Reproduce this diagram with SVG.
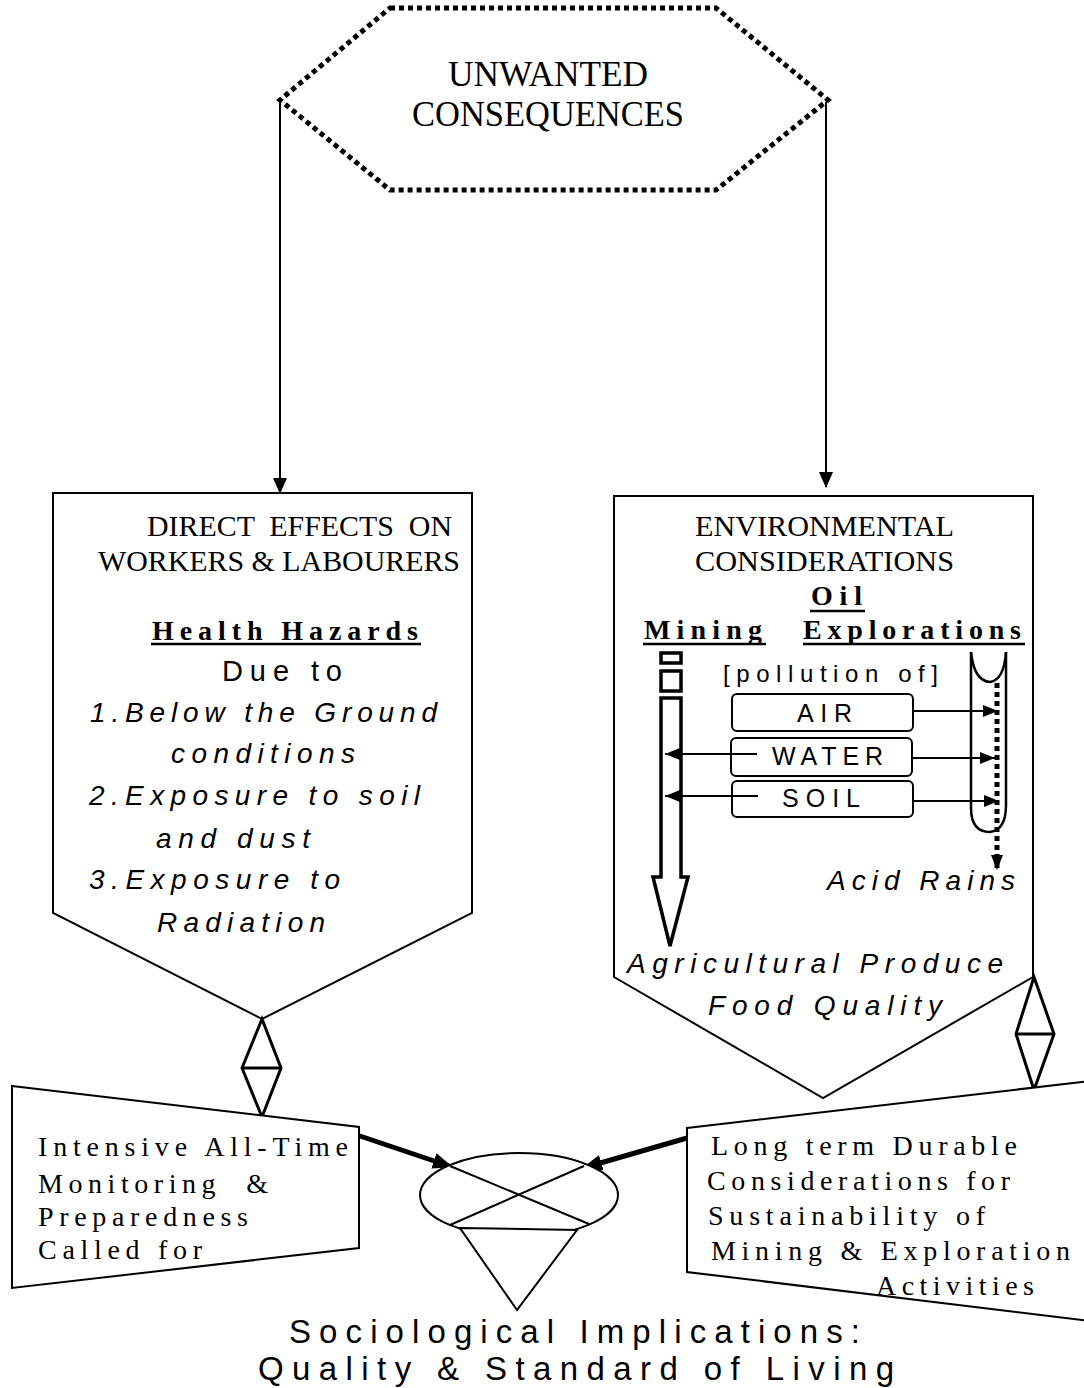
<svg xmlns="http://www.w3.org/2000/svg" width="1084" height="1388" viewBox="0 0 1084 1388">
<style>
.shape{fill:#fff;stroke:#000;stroke-width:2}
.thin{fill:none;stroke:#000;stroke-width:2}
.serif{font-family:"Liberation Serif","Times New Roman",serif;fill:#000}
.sans{font-family:"Liberation Sans",Arial,sans-serif;fill:#000}
.it{font-style:italic}
.b{font-weight:bold}
</style>
<defs>
<marker id="ah" markerUnits="userSpaceOnUse" markerWidth="16" markerHeight="14" refX="15" refY="7" orient="auto"><path d="M0,0 L16,7 L0,14 z" fill="#000"/></marker>
<marker id="ahs" markerUnits="userSpaceOnUse" markerWidth="15" markerHeight="12" refX="15" refY="6" orient="auto"><path d="M0,0 L15,6 L0,12 z" fill="#000"/></marker>
<marker id="ahb" markerUnits="userSpaceOnUse" markerWidth="20" markerHeight="16" refX="19" refY="8" orient="auto"><path d="M0,0 L20,8 L0,16 z" fill="#000"/></marker>
</defs>
<rect width="1084" height="1388" fill="#fff"/>

<g id="connectors">
<line class="thin" x1="280" y1="100" x2="280" y2="493" marker-end="url(#ah)"/>
<line class="thin" x1="826" y1="100" x2="826" y2="487" marker-end="url(#ah)"/>
<line x1="357" y1="1135" x2="452" y2="1167" stroke="#000" stroke-width="5" marker-end="url(#ahb)"/>
<line x1="687" y1="1138" x2="583" y2="1168" stroke="#000" stroke-width="5" marker-end="url(#ahb)"/>
</g>

<g id="unwanted">
<polygon points="390,8 716,8 828,100 716,190 390,190 280,100" fill="#fff" stroke="#000" stroke-width="5" stroke-dasharray="5 4"/>
<text class="serif" x="548" y="86" font-size="35" text-anchor="middle" textLength="200" lengthAdjust="spacingAndGlyphs">UNWANTED</text>
<text class="serif" x="548" y="126" font-size="35" text-anchor="middle" textLength="272" lengthAdjust="spacingAndGlyphs">CONSEQUENCES</text>
</g>

<g id="direct-effects">
<polygon class="shape" points="53,493 472,493 472,913 262,1019 53,913"/>
<text class="serif" x="147" y="536" font-size="30" textLength="305" lengthAdjust="spacingAndGlyphs" xml:space="preserve">DIRECT  EFFECTS  ON</text>
<text class="serif" x="98" y="571" font-size="30" textLength="362" lengthAdjust="spacingAndGlyphs">WORKERS &amp; LABOURERS</text>
<text class="serif b" x="152" y="640" font-size="28" textLength="266" lengthAdjust="spacing">Health Hazards</text>
<line x1="151" y1="644" x2="421" y2="644" stroke="#000" stroke-width="2.5"/>
<text class="sans" x="222" y="681" font-size="29" textLength="120" lengthAdjust="spacing">Due to</text>
<text class="sans it" x="90" y="722" font-size="28" textLength="347" lengthAdjust="spacing">1.Below the Ground</text>
<text class="sans it" x="171" y="763" font-size="28" textLength="184" lengthAdjust="spacing">conditions</text>
<text class="sans it" x="89" y="805" font-size="28" textLength="331" lengthAdjust="spacing">2.Exposure to soil</text>
<text class="sans it" x="156" y="848" font-size="28" textLength="154" lengthAdjust="spacing">and dust</text>
<text class="sans it" x="89" y="889" font-size="28" textLength="251" lengthAdjust="spacing">3.Exposure to</text>
<text class="sans it" x="157" y="932" font-size="28" textLength="168" lengthAdjust="spacing">Radiation</text>
</g>

<g id="environmental">
<polygon class="shape" points="614,496 1033,496 1033,977 823,1098 614,977"/>
<text class="serif" x="695" y="536" font-size="30" textLength="259" lengthAdjust="spacingAndGlyphs">ENVIRONMENTAL</text>
<text class="serif" x="695" y="571" font-size="30" textLength="259" lengthAdjust="spacingAndGlyphs">CONSIDERATIONS</text>
<text class="serif b" x="811" y="605" font-size="28" textLength="51" lengthAdjust="spacing">Oil</text>
<line x1="810" y1="611" x2="865" y2="611" stroke="#000" stroke-width="2.5"/>
<text class="serif b" x="644" y="639" font-size="28" textLength="118" lengthAdjust="spacing">Mining</text>
<line x1="643" y1="644" x2="766" y2="644" stroke="#000" stroke-width="2.5"/>
<text class="serif b" x="803" y="639" font-size="28" textLength="218" lengthAdjust="spacing">Explorations</text>
<line x1="803" y1="644" x2="1025" y2="644" stroke="#000" stroke-width="2.5"/>
<text class="sans" x="723" y="682" font-size="24" textLength="215" lengthAdjust="spacing">[pollution of]</text>

<rect x="661" y="653" width="20" height="10" fill="none" stroke="#000" stroke-width="3.5"/>
<rect x="661" y="671" width="20" height="20" fill="none" stroke="#000" stroke-width="3.5"/>
<polygon points="661,698 681,698 681,877 688,877 670,946 653,877 661,877" fill="#fff" stroke="#000" stroke-width="3.5"/>

<path d="M971,652 V808 Q971,832 990,832 Q1006,830 1006,805 V652" fill="none" stroke="#000" stroke-width="2.5"/>
<path d="M971,652 Q974,681 990,682 Q1004,680 1006,652" fill="none" stroke="#000" stroke-width="2.5"/>

<rect x="732" y="694" width="181" height="37" rx="5" fill="#fff" stroke="#000" stroke-width="2"/>
<text class="sans" x="797" y="722" font-size="25" textLength="55" lengthAdjust="spacing">AIR</text>
<rect x="731" y="738" width="181" height="38" rx="5" fill="#fff" stroke="#000" stroke-width="2"/>
<text class="sans" x="772" y="765" font-size="25" textLength="111" lengthAdjust="spacing">WATER</text>
<rect x="732" y="781" width="181" height="36" rx="5" fill="#fff" stroke="#000" stroke-width="2"/>
<text class="sans" x="782" y="807" font-size="25" textLength="78" lengthAdjust="spacing">SOIL</text>

<line class="thin" x1="757" y1="754" x2="665" y2="754" marker-end="url(#ahs)"/>
<line class="thin" x1="758" y1="796" x2="665" y2="796" marker-end="url(#ahs)"/>
<line class="thin" x1="913" y1="711" x2="998" y2="711" marker-end="url(#ahs)"/>
<line class="thin" x1="912" y1="758" x2="995" y2="758" marker-end="url(#ahs)"/>
<line class="thin" x1="913" y1="801" x2="999" y2="801" marker-end="url(#ahs)"/>

<line x1="997" y1="683" x2="997" y2="870" stroke="#000" stroke-width="5" stroke-dasharray="5 4" marker-end="url(#ahs)"/>

<text class="sans it" x="827" y="890" font-size="28" textLength="188" lengthAdjust="spacing">Acid Rains</text>
<text class="sans it" x="627" y="973" font-size="28" textLength="376" lengthAdjust="spacing">Agricultural Produce</text>
<text class="sans it" x="708" y="1015" font-size="28" textLength="234" lengthAdjust="spacing">Food Quality</text>
</g>

<g id="diamond-left">
<polygon points="262,1019 281,1068 262,1117 242,1068" fill="#fff" stroke="#000" stroke-width="3"/>
<line x1="242" y1="1068" x2="281" y2="1068" stroke="#000" stroke-width="3"/>
</g>

<g id="diamond-right">
<polygon points="1034,977 1054,1034 1034,1090 1016,1034" fill="#fff" stroke="#000" stroke-width="3"/>
<line x1="1016" y1="1034" x2="1054" y2="1034" stroke="#000" stroke-width="3"/>
</g>

<g id="monitoring">
<polygon class="shape" points="12,1086 359,1127 359,1248 12,1288"/>
<text class="serif" x="38" y="1156" font-size="28" textLength="310" lengthAdjust="spacing">Intensive All-Time</text>
<text class="serif" x="38" y="1193" font-size="28" textLength="230" lengthAdjust="spacing" xml:space="preserve">Monitoring  &amp;</text>
<text class="serif" x="38" y="1226" font-size="28" textLength="210" lengthAdjust="spacing">Preparedness</text>
<text class="serif" x="38" y="1259" font-size="28" textLength="164" lengthAdjust="spacing">Called for</text>
</g>

<g id="long-term">
<polygon class="shape" points="687,1128 1090,1081 1090,1321 687,1272"/>
<text class="serif" x="711" y="1155" font-size="28" textLength="306" lengthAdjust="spacing">Long term Durable</text>
<text class="serif" x="707" y="1190" font-size="28" textLength="303" lengthAdjust="spacing">Considerations for</text>
<text class="serif" x="708" y="1225" font-size="28" textLength="277" lengthAdjust="spacing">Sustainability of</text>
<text class="serif" x="711" y="1260" font-size="28" textLength="359" lengthAdjust="spacing">Mining &amp; Exploration</text>
<text class="serif" x="876" y="1295" font-size="28" textLength="158" lengthAdjust="spacing">Activities</text>
</g>

<g id="sociological">
<ellipse cx="519" cy="1195" rx="99" ry="42" fill="#fff" stroke="#000" stroke-width="2"/>
<line class="thin" x1="450" y1="1166" x2="589" y2="1224"/>
<line class="thin" x1="584" y1="1166" x2="450" y2="1225"/>
<polygon points="460,1228 577,1230 517,1310" fill="#fff" stroke="#000" stroke-width="2"/>
<text class="sans" x="289" y="1343" font-size="33" textLength="571" lengthAdjust="spacing">Sociological Implications:</text>
<text class="sans" x="258" y="1380" font-size="33" textLength="636" lengthAdjust="spacing">Quality &amp; Standard of Living</text>
</g>
</svg>
